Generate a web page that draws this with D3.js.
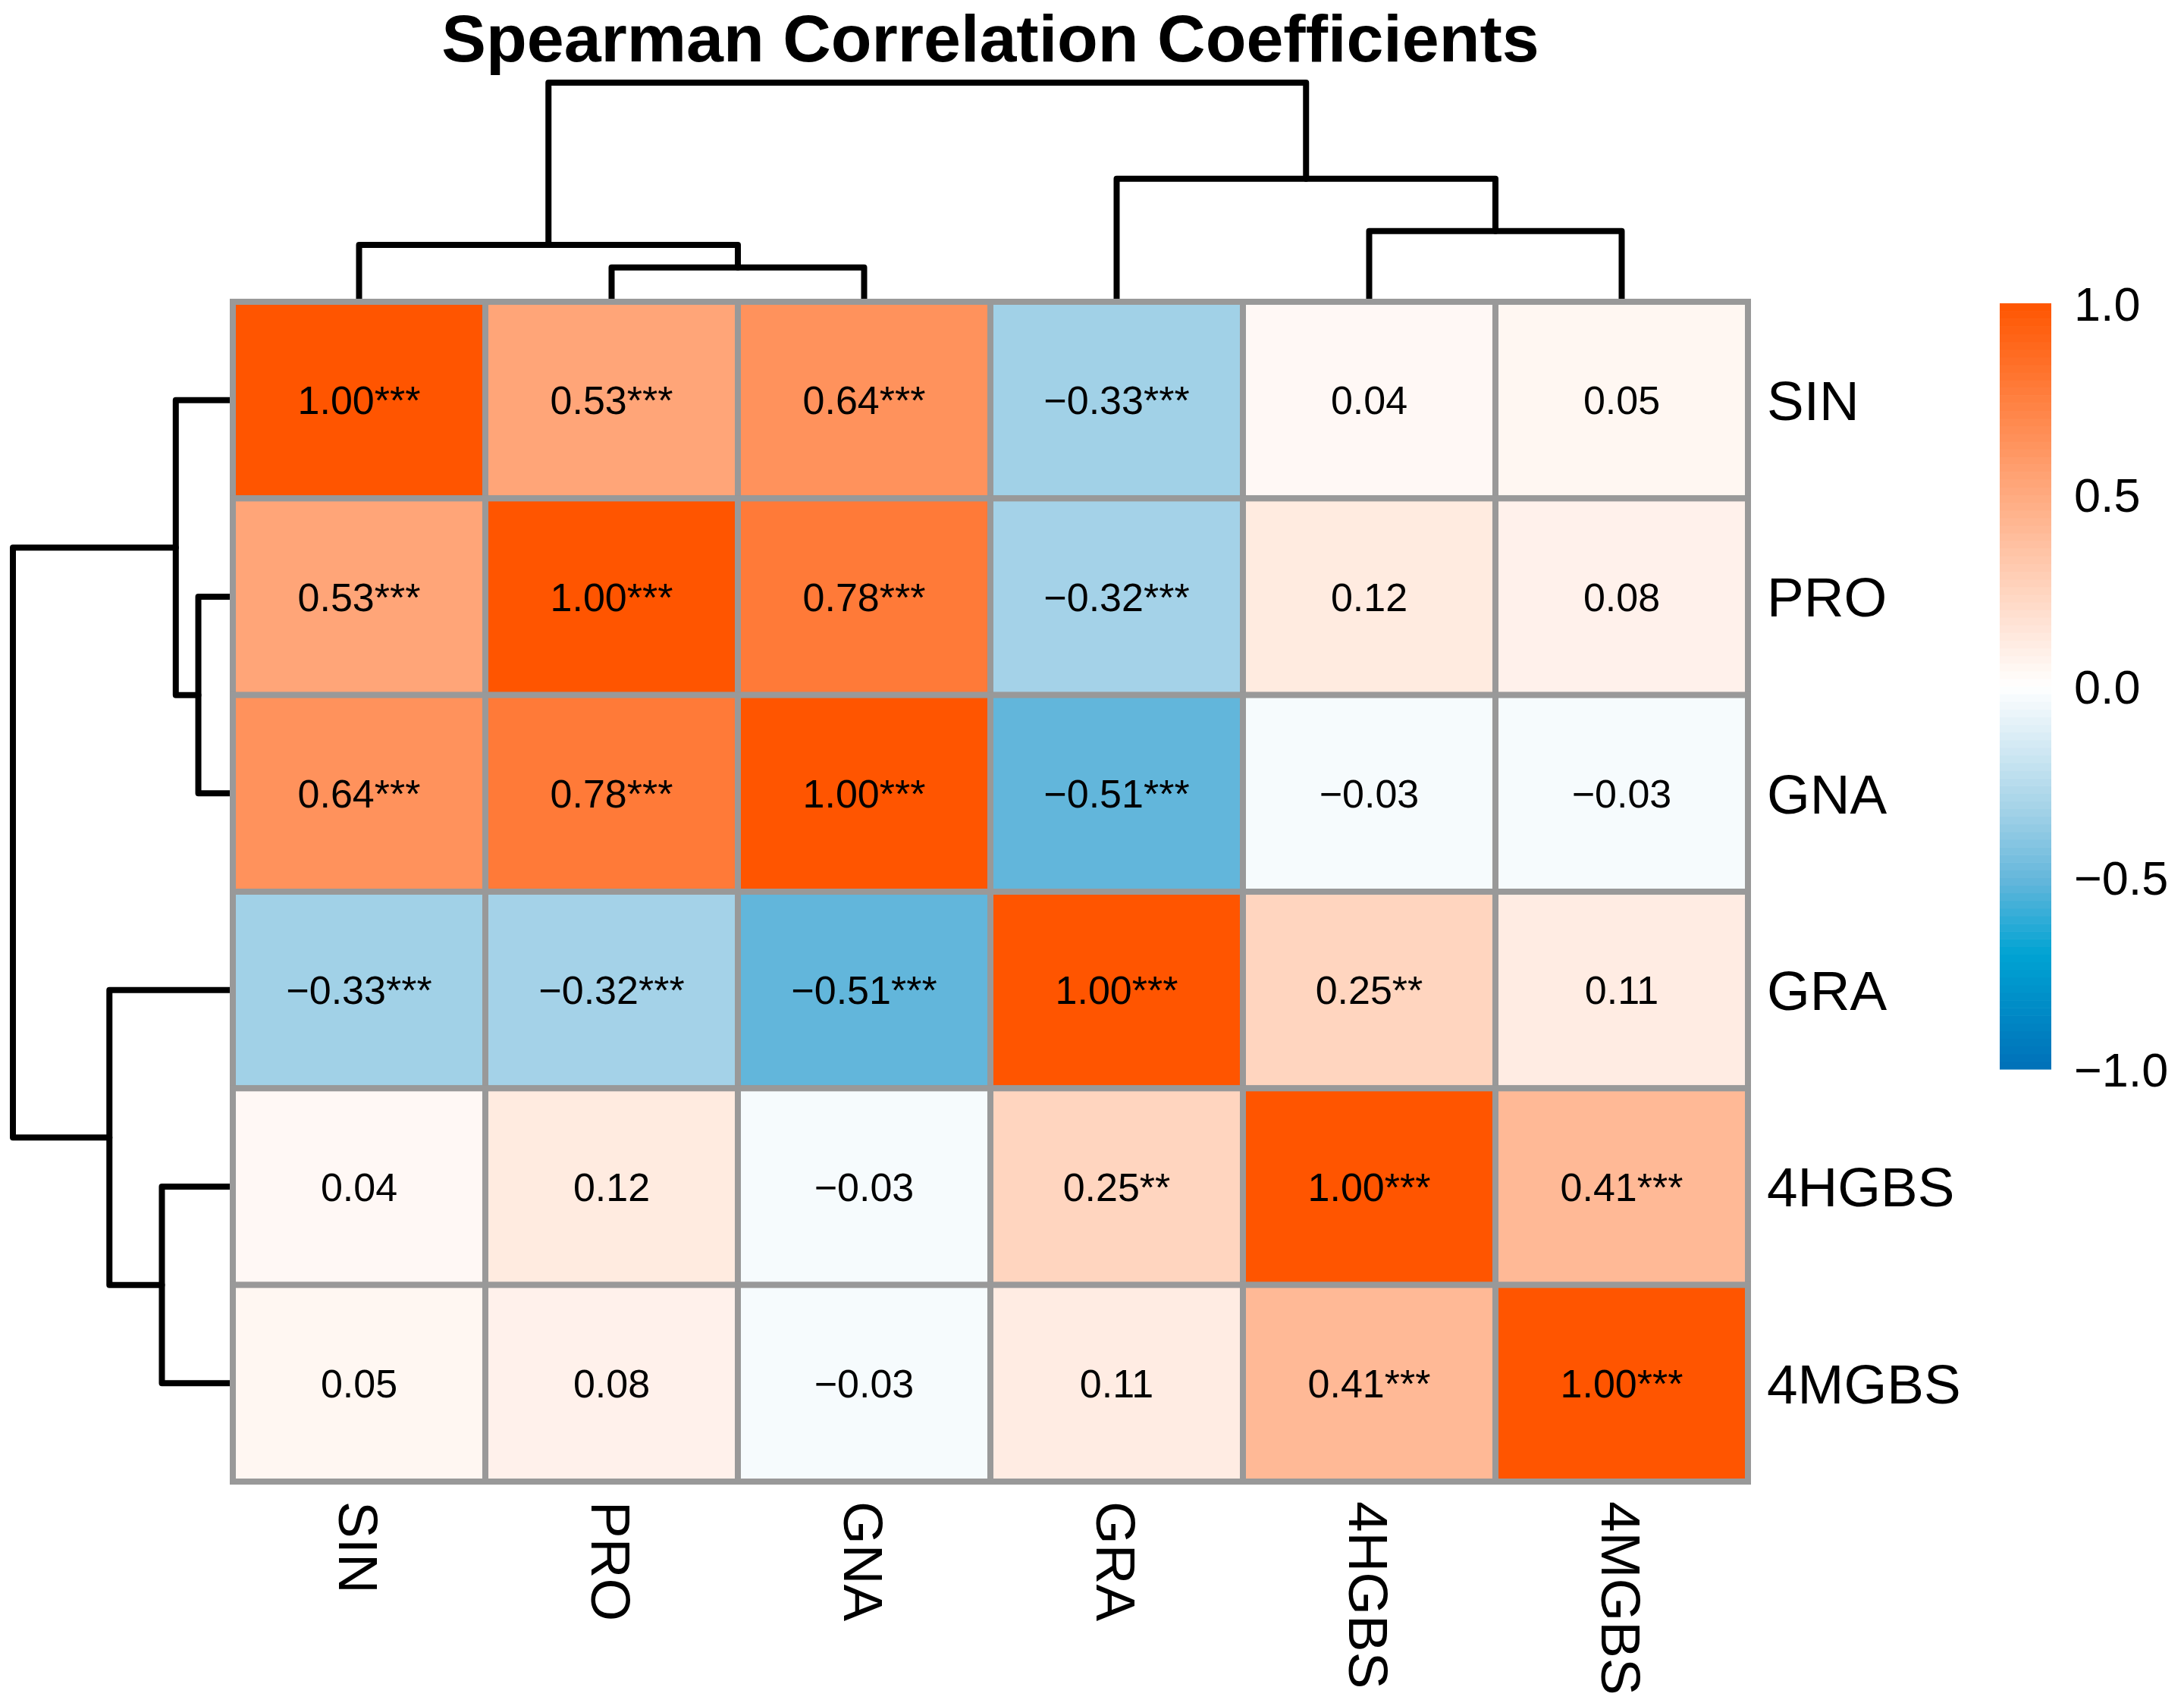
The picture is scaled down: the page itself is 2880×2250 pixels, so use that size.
<!DOCTYPE html>
<html>
<head>
<meta charset="utf-8">
<script src="https://cdn.jsdelivr.net/npm/d3@7.9.0/dist/d3.min.js"></script>
<style>
  html, body { margin: 0; padding: 0; background: #fff; }
  svg { display: block; font-family: "Liberation Sans", Arial, Helvetica, sans-serif; }
</style>
</head>
<body>
<svg id="chart" width="2880" height="2250"></svg>
<script>
// variables in clustered order (same for rows and columns)
const variables = ["SIN", "PRO", "GNA", "GRA", "4HGBS", "4MGBS"];

// Spearman rho, row by row
const rhoSIN   = [1.00, 0.53, 0.64, -0.33, 0.04, 0.05];
const rhoPRO   = [0.53, 1.00, 0.78, -0.32, 0.12, 0.08];
const rhoGNA   = [0.64, 0.78, 1.00, -0.51, -0.03, -0.03];
const rhoGRA   = [-0.33, -0.32, -0.51, 1.00, 0.25, 0.11];
const rho4HGBS = [0.04, 0.12, -0.03, 0.25, 1.00, 0.41];
const rho4MGBS = [0.05, 0.08, -0.03, 0.11, 0.41, 1.00];

// significance stars
const starsSIN   = ["***", "***", "***", "***", "", ""];
const starsPRO   = ["***", "***", "***", "***", "", ""];
const starsGNA   = ["***", "***", "***", "***", "", ""];
const starsGRA   = ["***", "***", "***", "***", "**", ""];
const stars4HGBS = ["", "", "", "**", "***", "***"];
const stars4MGBS = ["", "", "", "", "***", "***"];

// hierarchical clustering: strings are leaves, numbers point at earlier merges
const merges = [["PRO", "GNA"], ["SIN", 0], ["4HGBS", "4MGBS"], ["GRA", 2], [1, 3]];
const mergeHeights = [0.145, 0.249, 0.313, 0.555, 1.0];

// colour legend
const legendTicks = [1.0, 0.5, 0.0, -0.5, -1.0];

const rhoRows = [rhoSIN, rhoPRO, rhoGNA, rhoGRA, rho4HGBS, rho4MGBS];
const starRows = [starsSIN, starsPRO, starsGNA, starsGRA, stars4HGBS, stars4MGBS];

const svg = d3.select("#chart");

const x = d3.scaleBand().domain(variables).range([307, 2305]);
const y = d3.scaleBand().domain(variables).range([398, 1954]);

// colour ramp blue - white - orange
const color = d3.scaleLinear()
  .domain([-1, -0.7, -0.51, -0.33, 0, 1])
  .range(["#0070B8", "#00A3D3", "#62B6DB", "#A1D1E7", "#FFFFFF", "#FF5500"])
  .clamp(true);

const fmt = v => (v < 0 ? "\u2212" : "") + Math.abs(v).toFixed(2);

// title
svg.append("text")
  .attr("x", (x.range()[0] + x.range()[1]) / 2)
  .attr("y", 81)
  .attr("text-anchor", "middle")
  .attr("font-size", 88)
  .attr("font-weight", "bold")
  .text("Spearman Correlation Coefficients");

// dendrograms
const colDend = d3.scaleLinear().domain([0, d3.max(mergeHeights)]).range([394, 109]);
const rowDend = d3.scaleLinear().domain([0, d3.max(mergeHeights)]).range([303, 17]);

function dendroNodes(band) {
  const nodes = [];
  merges.forEach((m, i) => {
    const kids = m.map(k => typeof k === "string"
      ? { pos: band(k) + band.bandwidth() / 2, h: 0 }
      : nodes[k]);
    nodes.push({ pos: (kids[0].pos + kids[1].pos) / 2, h: mergeHeights[i], kids });
  });
  return nodes;
}

const dendStyle = g => g.attr("fill", "none").attr("stroke", "#000")
  .attr("stroke-width", 8).attr("stroke-linejoin", "round").attr("stroke-linecap", "round");

const topG = svg.append("g").call(dendStyle);
dendroNodes(x).forEach(n => {
  const [a, b] = n.kids;
  topG.append("path").attr("d",
    `M${a.pos},${colDend(a.h)}V${colDend(n.h)}H${b.pos}V${colDend(b.h)}`);
});

const leftG = svg.append("g").call(dendStyle);
dendroNodes(y).forEach(n => {
  const [a, b] = n.kids;
  leftG.append("path").attr("d",
    `M${rowDend(a.h)},${a.pos}H${rowDend(n.h)}V${b.pos}H${rowDend(b.h)}`);
});

// heatmap cells
const cells = [];
variables.forEach((r, i) => variables.forEach((c, j) => {
  cells.push({ row: r, col: c, v: rhoRows[i][j], s: starRows[i][j] });
}));

svg.append("g").selectAll("rect").data(cells).join("rect")
  .attr("x", d => x(d.col))
  .attr("y", d => y(d.row))
  .attr("width", x.bandwidth())
  .attr("height", y.bandwidth())
  .attr("fill", d => color(d.v))
  .attr("stroke", "#999999")
  .attr("stroke-width", 8);

svg.append("g").selectAll("text").data(cells).join("text")
  .attr("x", d => x(d.col) + x.bandwidth() / 2)
  .attr("y", d => y(d.row) + y.bandwidth() / 2)
  .attr("dy", "0.36em")
  .attr("text-anchor", "middle")
  .attr("font-size", 52)
  .text(d => fmt(d.v) + d.s);

// row labels
svg.append("g").selectAll("text").data(variables).join("text")
  .attr("x", x.range()[1] + 25)
  .attr("y", d => y(d) + y.bandwidth() / 2)
  .attr("dy", "0.36em")
  .attr("font-size", 73)
  .text(d => d);

// column labels, reading downward
svg.append("g").selectAll("text").data(variables).join("text")
  .attr("transform", d => `translate(${x(d) + x.bandwidth() / 2},${y.range()[1] + 26}) rotate(90)`)
  .attr("dy", "0.36em")
  .attr("font-size", 73)
  .text(d => d);

// colour bar
const legY = d3.scaleLinear().domain([-1, 1]).range([1410, 400]);
const steps = d3.range(-1, 1, 0.02);
svg.append("g").selectAll("rect").data(steps).join("rect")
  .attr("x", 2637)
  .attr("width", 68)
  .attr("y", d => legY(d + 0.02))
  .attr("height", d => legY(d) - legY(d + 0.02) + 0.6)
  .attr("fill", d => color(d + 0.01));

svg.append("g").selectAll("text").data(legendTicks).join("text")
  .attr("x", 2735)
  .attr("y", d => legY(d))
  .attr("dy", "0.36em")
  .attr("font-size", 63)
  .text(d => (d < 0 ? "\u2212" : "") + Math.abs(d).toFixed(1));
</script>
</body>
</html>
